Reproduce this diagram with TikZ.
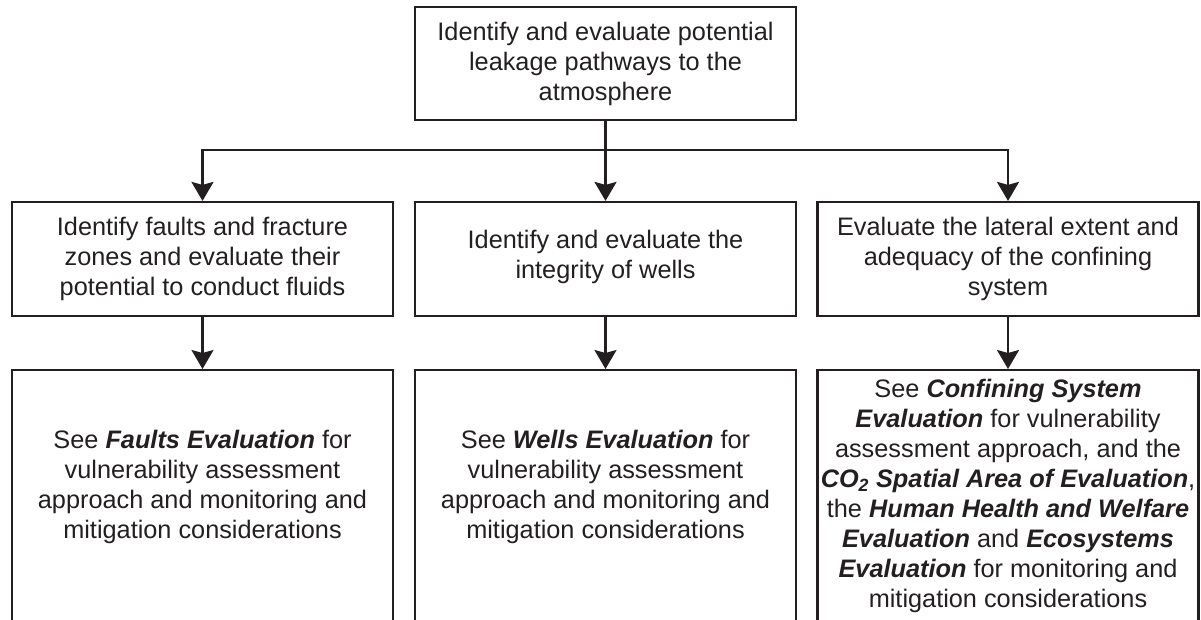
\documentclass[tikz,border=0pt]{standalone}
\usepackage{fontspec}
\setmainfont{Liberation Sans}
\usetikzlibrary{arrows.meta}
\definecolor{inkgray}{RGB}{35,31,32}
\newcommand{\evname}[1]{\textbf{\textit{#1}}}

\begin{document}
\begin{tikzpicture}[x=1pt, y=-1pt, line width=2.2pt,
    box/.style={draw=inkgray, rectangle, minimum width=381pt, minimum height=114pt,
                align=center, text=inkgray, font=\fontsize{25.3}{30}\selectfont},
    frame/.style={draw=inkgray, rectangle, minimum width=381pt, minimum height=300pt, anchor=north},
    txt/.style={align=center, text=inkgray, font=\fontsize{25.3}{30}\selectfont},
    arr/.style={draw=inkgray, -{Stealth[length=19pt, width=22pt, inset=3pt]}}]
    \useasboundingbox (0,0) rectangle (1201,619);
    \clip (0,0) rectangle (1201,619);

    % top box
    \node[box, minimum height=113pt] (top) at (605.5,63.5) {Identify and evaluate potential\\leakage pathways to the\\atmosphere};

    % middle row
    \node[box] (faults) at (202.5,259) {Identify faults and fracture\\zones and evaluate their\\potential to conduct fluids};
    \node[box] (wells) at (605.5,259) {Identify and evaluate the\\integrity of wells\\[-20pt]};
    \node[box] (confine) at (1008,259) {Evaluate the lateral extent and\\adequacy of the confining\\system};

    % bottom row (runs off the page)
    \node[frame] (faultsee) at (202.5,369) {};
    \node[frame] (wellsee) at (605.5,369) {};
    \node[frame] (confinesee) at (1008,369) {};
    \node[txt] (faultstxt) at (202.5,487) {See \evname{Faults Evaluation} for\\vulnerability assessment\\approach and monitoring and\\mitigation considerations};
    \node[txt] (wellstxt) at (605.5,487) {See \evname{Wells Evaluation} for\\vulnerability assessment\\approach and monitoring and\\mitigation considerations};
    \node[txt] (confinetxt) at (1008,496) {See \evname{Confining System}\\\evname{Evaluation} for vulnerability\\assessment approach, and the\\\evname{CO\textsubscript{2} Spatial Area of Evaluation},\\the \evname{Human Health and Welfare}\\\evname{Evaluation} and \evname{Ecosystems}\\\evname{Evaluation} for monitoring and\\mitigation considerations};

    % connectors
    \coordinate (split) at (605.5,150);
    \draw[draw=inkgray] (top) -- (split);
    \draw[arr] (split) -| (faults.north);
    \draw[arr] (split) -- (wells);
    \draw[arr] (split) -| (confine.north);
    \draw[arr] (faults) -- (faultsee);
    \draw[arr] (wells) -- (wellsee);
    \draw[arr] (confine) -- (confinesee);
\end{tikzpicture}
\end{document}
